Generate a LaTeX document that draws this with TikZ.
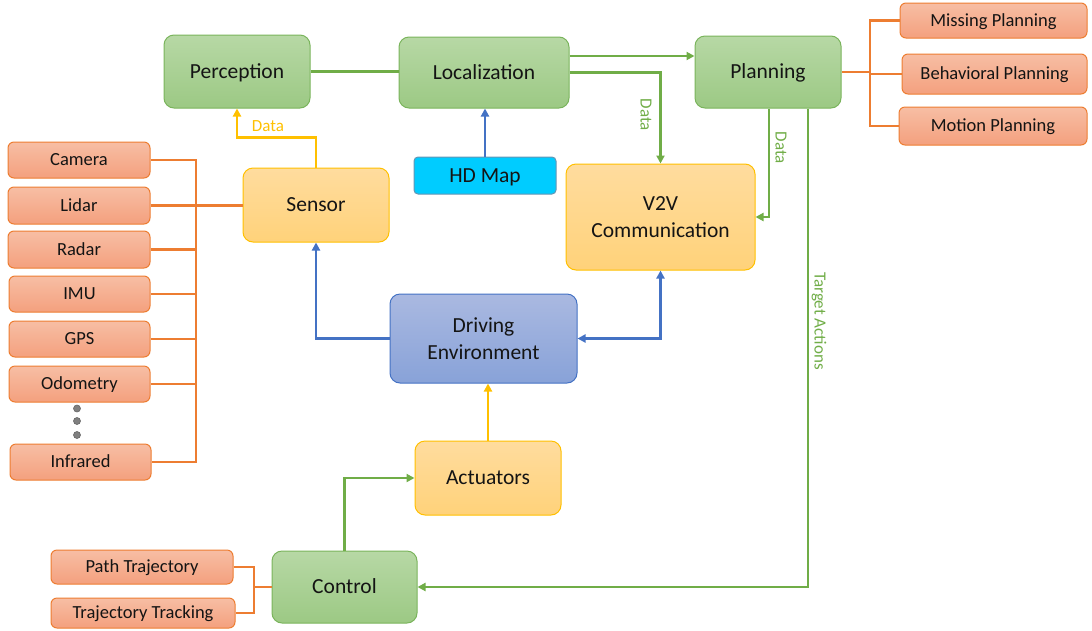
\documentclass[tikz,border=0pt]{standalone}
\usepackage{fontspec}
\setmainfont{Carlito}
\usetikzlibrary{arrows.meta,calc}
\definecolor{gtop}{RGB}{183,216,165}
\definecolor{gbot}{RGB}{156,201,132}
\definecolor{gbrd}{RGB}{122,180,92}
\definecolor{garr}{RGB}{112,173,71}
\definecolor{ytop}{RGB}{255,220,158}
\definecolor{ybot}{RGB}{255,210,122}
\definecolor{ybrd}{RGB}{255,192,0}
\definecolor{otop}{RGB}{247,190,164}
\definecolor{obot}{RGB}{244,160,126}
\definecolor{obrd}{RGB}{237,125,49}
\definecolor{btop}{RGB}{170,185,225}
\definecolor{bbot}{RGB}{136,162,216}
\definecolor{bbrd}{RGB}{68,114,196}
\definecolor{hdfill}{RGB}{0,204,255}
\definecolor{hdbrd}{RGB}{100,150,180}
\definecolor{txt}{RGB}{20,20,20}
\tikzset{
  base/.style={rectangle, inner sep=0pt, align=center, text=txt, line width=1pt},
  bigfont/.style={font=\fontsize{21.5}{26}\selectfont},
  smallfont/.style={font=\fontsize{18.5}{22}\selectfont},
  one/.style={text height=13.8pt, text depth=0pt},
  sone/.style={text height=11.9pt, text depth=0pt},
  greenbox/.style={base, bigfont, one, draw=gbrd, top color=gtop, bottom color=gbot, rounded corners=10pt},
  yellowbox/.style={base, bigfont, draw=ybrd, top color=ytop, bottom color=ybot, rounded corners=10pt},
  bluebox/.style={base, bigfont, draw=bbrd, top color=btop, bottom color=bbot, rounded corners=10pt},
  orangebox/.style={base, smallfont, sone, draw=obrd, top color=otop, bottom color=obot, rounded corners=6pt},
  hdbox/.style={base, bigfont, one, draw=hdbrd, fill=hdfill, rounded corners=4pt},
  tip/.style={-{Triangle[width=8pt,length=8pt]}},
  garrow/.style={draw=garr, line width=2.4pt},
  yarrow/.style={draw=ybrd, line width=2.4pt},
  barrow/.style={draw=bbrd, line width=2.4pt},
  oline/.style={draw=obrd, line width=2.6pt},
  lbl/.style={font=\fontsize{17}{20}\selectfont, inner sep=1pt},
  dot/.style={circle, fill=gray, draw=black!60, line width=0.6pt, minimum size=7pt, inner sep=0pt}
}
\begin{document}
\begin{tikzpicture}[x=1pt,y=-1pt]
\useasboundingbox (0,0) rectangle (1092,630);
% main nodes
\node[greenbox, minimum width=146pt, minimum height=73pt] (perc) at (237,71.5) {Perception};
\node[greenbox, minimum width=170pt, minimum height=71pt] (loc) at (484,72.5) {Localization};
\node[hdbox, minimum width=142pt, minimum height=37pt] (hd) at (485,175.5) {HD Map};
\node[greenbox, minimum width=146pt, minimum height=72pt] (plan) at (768,72) {Planning};
\node[orangebox, minimum width=187pt, minimum height=35pt] (miss) at (993.5,20.5) {Missing Planning};
\node[orangebox, minimum width=185pt, minimum height=40pt] (behav) at (994.5,74) {Behavioral Planning};
\node[orangebox, minimum width=188pt, minimum height=38pt] (mot) at (993,126) {Motion Planning};
\node[yellowbox, one, minimum width=146pt, minimum height=74pt] (sensor) at (316,205) {Sensor};
\node[orangebox, minimum width=142pt, minimum height=36pt] (cam) at (79,160) {Camera};
\node[orangebox, minimum width=142pt, minimum height=37pt] (lidar) at (79,205.5) {Lidar};
\node[orangebox, minimum width=142pt, minimum height=37pt] (radar) at (79,249.5) {Radar};
\node[orangebox, minimum width=141pt, minimum height=36pt] (imu) at (79.5,294) {IMU};
\node[orangebox, minimum width=141pt, minimum height=36pt] (gps) at (79.5,339) {GPS};
\node[orangebox, minimum width=141pt, minimum height=36pt] (odo) at (79.5,384) {Odometry};
\node[orangebox, minimum width=141pt, minimum height=36pt] (inf) at (80.5,462) {Infrared};
\node[dot] (d1) at (77,408.5) {};
\node[dot] (d2) at (77,421) {};
\node[dot] (d3) at (77,435) {};
\node[yellowbox, minimum width=189pt, minimum height=106pt] (v2v) at (660.5,217) {V2V\\[1pt]Communication};
\node[bluebox, minimum width=187pt, minimum height=89pt] (de) at (483.5,338.5) {Driving\\[1pt]Environment};
\node[yellowbox, one, minimum width=146pt, minimum height=74pt] (act) at (488,478) {Actuators};
\node[greenbox, minimum width=145pt, minimum height=72pt] (ctrl) at (344.5,587) {Control};
\node[orangebox, minimum width=182pt, minimum height=34pt] (path) at (142,567) {Path Trajectory};
\node[orangebox, minimum width=184pt, minimum height=30pt] (track) at (143,613) {Trajectory Tracking};
% bracket coordinates
\coordinate (sb) at (196,0);
\coordinate (pb) at (870,0);
\coordinate (cb) at (254,0);
% orange lines: sensors
\draw[oline] (cam.east) -| (sb |- inf.east) -- (inf.east);
\draw[oline] (lidar.east) -- (lidar.east -| sensor.west);
\draw[oline] (radar.east) -- (radar.east -| sb);
\draw[oline] (imu.east) -- (imu.east -| sb);
\draw[oline] (gps.east) -- (gps.east -| sb);
\draw[oline] (odo.east) -- (odo.east -| sb);
% orange lines: planning
\draw[oline] (miss.west) -| (pb |- mot.west) -- (mot.west);
\draw[oline] (behav.west) -- (behav.west -| pb);
\draw[oline] (plan.east) -- (plan.east -| pb);
% orange lines: control
\draw[oline] (path.east) -| (cb |- track.east) -- (track.east);
\draw[oline] (ctrl.west) -- (ctrl.west -| cb);
% green connectors
\draw[garrow] (perc.east) -- (perc.east -| loc.west);
\draw[garrow, tip] (loc.east |- 0,56) -- (plan.west |- 0,56);
\draw[garrow, tip] (loc.east) -| (v2v.north);
\node[lbl, text=garr, rotate=-90] (l1) at (646,115) {Data};
\draw[garrow, tip] ([xshift=1pt]plan.south) |- (v2v.east);
\node[lbl, text=garr, rotate=-90] (l2) at (781,148) {Data};
\draw[garrow, tip] ([xshift=40pt]plan.south) |- (ctrl.east);
\node[lbl, text=garr, rotate=-90] (l3) at (819,321) {Target Actions};
\draw[garrow, tip] (ctrl.north) |- (act.west);
% yellow connectors
\draw[yarrow, tip] (sensor.north) -- ++(0,-30) -| (perc.south);
\node[lbl, text=ybrd] (l4) at (268,126) {Data};
\draw[yarrow, tip] (act.north) -- (act.north |- de.south);
% blue connectors
\draw[barrow, tip] (hd.north) -- (hd.north |- loc.south);
\draw[barrow, tip] (de.west) -| (sensor.south);
\draw[barrow, {Triangle[width=8pt,length=8pt]}-{Triangle[width=8pt,length=8pt]}] (de.east) -| (v2v.south);
\end{tikzpicture}
\end{document}
